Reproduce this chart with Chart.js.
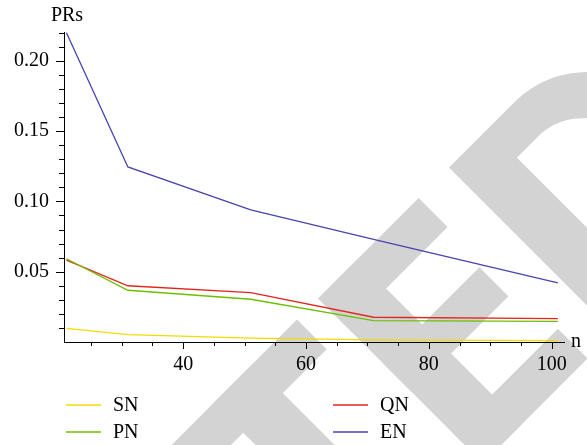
<!DOCTYPE html>
<html>
<head>
<meta charset="utf-8">
<script src="https://cdn.jsdelivr.net/npm/chart.js@4.4.1/dist/chart.umd.min.js"></script>
<style>
  html, body { margin: 0; padding: 0; background: #fff; }
  canvas { display: block; }
</style>
</head>
<body>
<canvas id="prChart" width="587" height="445"></canvas>
<script>
// data
const nValues = [21, 31, 51, 71, 101];
const snValues = [0.0097, 0.0052, 0.0027, 0.0015, 0.0010];
const qnValues = [0.0583, 0.0400, 0.0351, 0.0176, 0.0166];
const pnValues = [0.0592, 0.0368, 0.0304, 0.0152, 0.0147];
const enValues = [0.2200, 0.1245, 0.0940, 0.0730, 0.0420];
const xTickLabels = [40, 60, 80, 100];
const yTickLabels = [0.05, 0.10, 0.15, 0.20];

const serif = '"Liberation Serif", "DejaVu Serif", serif';

function toPoints(ys) {
  return nValues.map((n, i) => ({ x: n, y: ys[i] }));
}

function makeSet(label, ys, color) {
  return {
    label: label,
    data: toPoints(ys),
    borderColor: color,
    backgroundColor: color,
    borderWidth: 1.3,
    pointRadius: 0,
    tension: 0,
    fill: false
  };
}

// grey "RETRACTED" stamp behind the plot; only the tail "TED" is in view.
// drawn in a frame turned 45 degrees, u runs along the word, v down the letters
const watermark = {
  id: "watermark",
  beforeDraw(chart) {
    const c = chart.ctx;
    c.save();
    c.fillStyle = "#fff";
    c.fillRect(0, 0, chart.width, chart.height);
    c.rotate(-Math.PI / 4);
    c.fillStyle = "#d3d3d3";
    const top = 436, base = 669;
    // T
    c.fillRect(-196, top, 180, 42);
    c.fillRect(-134, top, 56, base - top);
    // E
    c.fillRect(14, top, 55, base - top);
    c.fillRect(14, top, 142, 41);
    c.fillRect(14, 528, 136, 41);
    c.fillRect(14, 627, 148, base - 627);
    // D
    const mid = (top + base) / 2;
    c.beginPath();
    c.moveTo(199, top);
    c.lineTo(292, top);
    c.ellipse(292, mid, 108, mid - top, 0, -Math.PI / 2, Math.PI / 2, false);
    c.lineTo(199, base);
    c.closePath();
    c.moveTo(254, 477);
    c.lineTo(285, 477);
    c.ellipse(285, mid, 66, mid - 477, 0, -Math.PI / 2, Math.PI / 2, false);
    c.lineTo(254, base - 41);
    c.closePath();
    c.fill("evenodd");
    c.restore();
  }
};

// tick marks, axis titles and the two-column legend
const decorations = {
  id: "decorations",
  afterDraw(chart) {
    const c = chart.ctx;
    const xs = chart.scales.x;
    const ys = chart.scales.y;
    const area = chart.chartArea;
    c.save();
    c.strokeStyle = "#000";
    c.lineWidth = 1;

    for (let v = 25; v <= 100; v += 5) {
      const px = Math.round(xs.getPixelForValue(v)) + 0.5;
      const len = v % 20 === 0 ? 7 : 4;
      c.beginPath();
      c.moveTo(px, area.bottom);
      c.lineTo(px, area.bottom + len);
      c.stroke();
    }
    for (let k = 1; k <= 22; k++) {
      const py = Math.round(ys.getPixelForValue(k / 100)) + 0.5;
      const len = k % 5 === 0 ? 8 : 5;
      c.beginPath();
      c.moveTo(area.left, py);
      c.lineTo(area.left - len, py);
      c.stroke();
    }

    c.fillStyle = "#000";
    c.font = "20px " + serif;
    c.textAlign = "center";
    c.textBaseline = "alphabetic";
    c.fillText("PRs", 67, 21);
    c.textAlign = "left";
    c.fillText("n", 571, 347);

    const cols = [66, 333];
    const rows = [405, 432];
    chart.data.datasets.forEach((ds, i) => {
      const x0 = cols[Math.floor(i / 2)];
      const y0 = rows[i % 2];
      c.strokeStyle = ds.borderColor;
      c.lineWidth = 1.5;
      c.beginPath();
      c.moveTo(x0, y0);
      c.lineTo(x0 + 35, y0);
      c.stroke();
      c.fillStyle = "#000";
      c.textBaseline = "middle";
      c.fillText(ds.label, x0 + 47, y0 + 1);
    });
    c.restore();
  }
};

const ctx = document.getElementById("prChart").getContext("2d");

const prChart = new Chart(ctx, {
  type: "line",
  data: {
    datasets: [
      makeSet("SN", snValues, "#f2dc00"),
      makeSet("PN", pnValues, "#6cbf00"),
      makeSet("QN", qnValues, "#e3261c"),
      makeSet("EN", enValues, "#4545b0")
    ]
  },
  options: {
    responsive: false,
    animation: false,
    layout: { padding: { left: 0, right: 23, top: 32, bottom: 0 } },
    plugins: {
      legend: { display: false },
      tooltip: { enabled: false }
    },
    scales: {
      x: {
        type: "linear",
        min: 20.6,
        max: 102,
        afterBuildTicks: (s) => { s.ticks = xTickLabels.map((v) => ({ value: v })); },
        afterFit: (s) => { s.height = 103; },
        grid: { display: false, drawTicks: false },
        border: { display: true, color: "#000", width: 1 },
        ticks: {
          color: "#000",
          font: { family: serif, size: 20 },
          padding: 11,
          maxRotation: 0
        }
      },
      y: {
        type: "linear",
        min: 0,
        max: 0.2205,
        afterBuildTicks: (s) => { s.ticks = yTickLabels.map((v) => ({ value: v })); },
        afterFit: (s) => { s.width = 64; },
        grid: { display: false, drawTicks: false },
        border: { display: true, color: "#000", width: 1 },
        ticks: {
          color: "#000",
          font: { family: serif, size: 20 },
          padding: 15,
          callback: (v) => Number(v).toFixed(2)
        }
      }
    }
  },
  plugins: [watermark, decorations]
});
</script>
</body>
</html>
